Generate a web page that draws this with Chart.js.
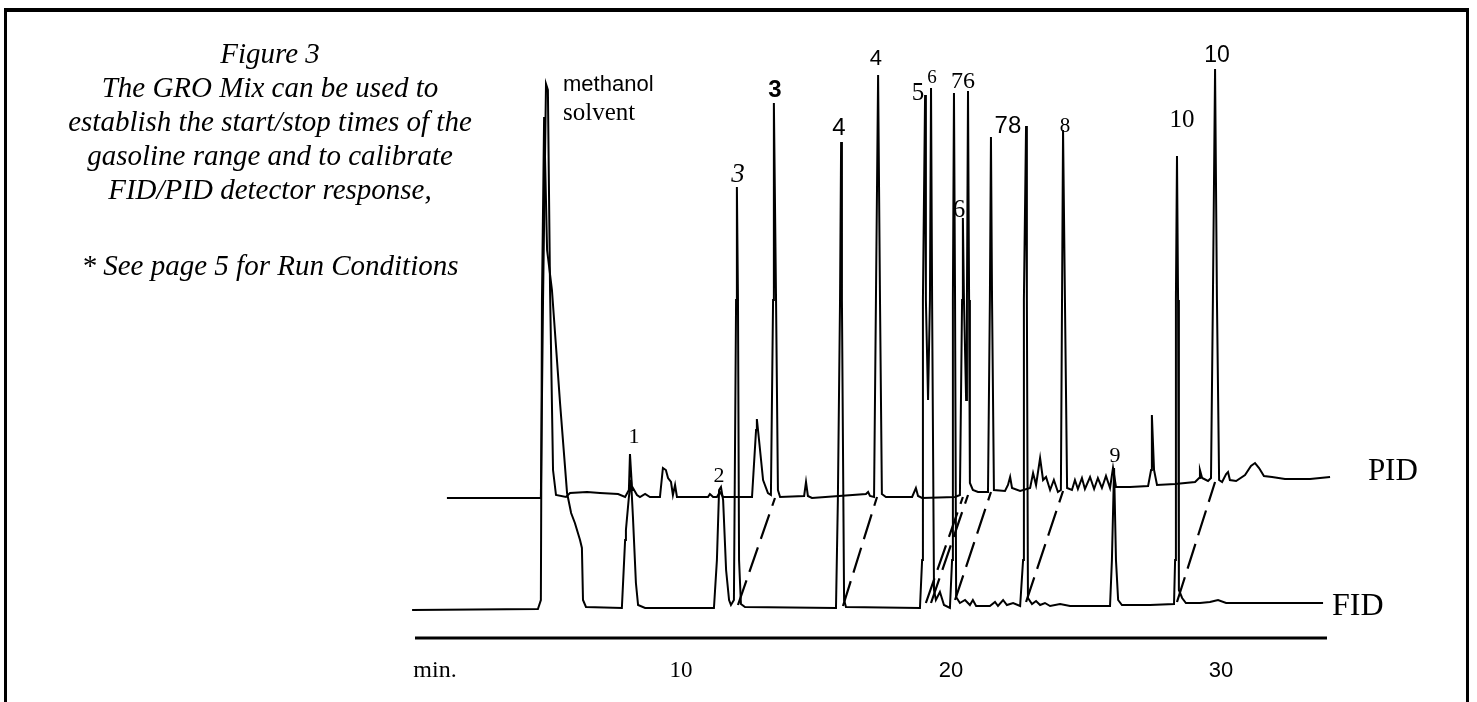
<!DOCTYPE html>
<html>
<head>
<meta charset="utf-8">
<script src="https://cdn.jsdelivr.net/npm/chart.js@4.4.1/dist/chart.umd.min.js"></script>
<style>
  html, body { margin: 0; padding: 0; background: #fff; }
  #chart { position: absolute; left: 0; top: 0; display: block; }
  #frame {
    position: absolute; left: 4px; top: 8px; width: 1459px; height: 700px;
    border-top: 4px solid #000; border-left: 3px solid #000; border-right: 3px solid #000;
    pointer-events: none;
  }
  .caption {
    position: absolute; left: 0; width: 540px; text-align: center;
    font: italic 29px "Liberation Serif", serif; line-height: 34px; color: #000;
  }
</style>
</head>
<body>
<canvas id="chart" width="1477" height="702"></canvas>
<div id="frame"></div>
<div class="caption" style="top:36px">Figure 3<br>The GRO Mix can be used to<br>establish the start/stop times of the<br>gasoline range and to calibrate<br>FID/PID detector response,</div>
<div class="caption" style="top:248px">* See page 5 for Run Conditions</div>
<script>
// retention time (min) and detector signal
const pidTime = [
  1.33, 4.70, 4.81, 4.89, 5.00, 5.07, 5.15, 5.26, 5.37, 5.74,
  5.89, 6.52, 7.00, 7.67, 7.93, 8.07, 8.11, 8.19, 8.22, 8.37,
  8.48, 8.67, 8.85, 9.22, 9.33, 9.44, 9.52, 9.63, 9.70, 9.78,
  9.85, 11.00, 11.07, 11.19, 11.33, 11.44, 11.56, 12.63, 12.78, 12.81,
  12.89, 13.04, 13.22, 13.33, 13.41, 13.44, 13.52, 13.59, 13.67, 14.56,
  14.63, 14.70, 14.85, 16.85, 16.93, 17.00, 17.15, 17.22, 17.30, 17.37,
  17.44, 17.59, 18.56, 18.70, 18.78, 18.93, 20.15, 20.33, 20.41, 20.44,
  20.48, 20.56, 20.59, 20.63, 20.67, 20.70, 20.81, 21.00, 21.37, 21.44,
  21.48, 21.52, 21.59, 22.00, 22.11, 22.19, 22.26, 22.56, 22.93, 23.04,
  23.15, 23.30, 23.41, 23.52, 23.67, 23.81, 23.96, 24.07, 24.15, 24.22,
  24.30, 24.48, 24.59, 24.70, 24.85, 24.96, 25.15, 25.30, 25.44, 25.59,
  25.74, 25.89, 26.00, 26.11, 26.63, 27.30, 27.41, 27.44, 27.52, 27.63,
  28.30, 29.04, 29.19, 29.22, 29.30, 29.52, 29.63, 29.70, 29.78, 29.85,
  29.93, 30.04, 30.19, 30.26, 30.33, 30.56, 30.89, 31.11, 31.26, 31.41,
  31.59, 31.89, 32.37, 33.30, 34.04, 34.78, 35.07, 35.22
];
const pidSignal = [
  28.0, 28.0, 28.0, 67.6, 110.8, 109.6, 69.6, 33.6, 28.6, 28.2,
  29.0, 29.2, 29.0, 28.8, 28.2, 29.6, 36.8, 29.6, 30.0, 28.6,
  28.2, 28.8, 28.2, 28.2, 34.0, 33.6, 32.0, 31.2, 28.6, 30.6,
  28.2, 28.2, 28.8, 28.2, 28.2, 29.2, 28.2, 28.2, 41.6, 43.8,
  39.6, 31.6, 29.0, 28.6, 67.6, 107.0, 67.6, 29.6, 28.2, 28.4,
  31.2, 28.4, 28.0, 28.8, 29.2, 28.4, 28.2, 67.6, 112.6, 67.6,
  28.8, 28.2, 28.2, 30.0, 28.4, 28.0, 28.2, 28.6, 67.6, 84.0,
  67.6, 47.6, 67.6, 109.4, 67.6, 31.0, 29.6, 29.2, 29.2, 67.6,
  100.2, 67.6, 29.6, 29.4, 30.6, 32.2, 30.0, 29.4, 30.0, 33.0,
  30.6, 36.0, 31.6, 32.2, 29.6, 31.6, 29.2, 29.6, 101.6, 67.6,
  30.0, 29.6, 31.6, 29.8, 32.0, 29.8, 32.2, 29.8, 32.0, 30.0,
  32.4, 30.0, 34.0, 30.2, 30.2, 30.4, 33.6, 44.6, 33.6, 30.6,
  30.8, 31.2, 32.0, 33.6, 32.0, 31.4, 32.0, 67.6, 113.8, 67.6,
  31.6, 31.2, 32.8, 33.2, 31.6, 31.4, 32.6, 34.4, 35.0, 34.0,
  32.4, 32.2, 31.8, 31.8, 32.2, 32.4, 32.8, 33.6
];
const fidTime = [
  0.04, 4.70, 4.81, 4.85, 4.93, 5.04, 5.22, 5.30, 5.52, 5.78,
  5.93, 6.07, 6.26, 6.33, 6.37, 6.48, 7.81, 7.93, 7.96, 8.07,
  8.15, 8.22, 8.33, 8.41, 8.67, 11.22, 11.33, 11.41, 11.48, 11.56,
  11.67, 11.78, 11.85, 11.96, 12.04, 12.07, 12.11, 12.15, 12.22, 12.37,
  15.74, 15.81, 15.89, 15.93, 15.96, 16.04, 16.11, 18.85, 18.93, 18.96,
  19.04, 19.07, 19.15, 19.22, 19.26, 19.30, 19.37, 19.44, 19.59, 19.74,
  19.96, 20.04, 20.07, 20.11, 20.15, 20.19, 20.33, 20.52, 20.70, 20.81,
  20.93, 21.44, 21.63, 21.74, 21.93, 22.07, 22.30, 22.56, 22.67, 22.70,
  22.78, 22.81, 22.85, 23.00, 23.15, 23.30, 23.48, 23.67, 24.04, 24.41,
  25.89, 25.96, 26.04, 26.11, 26.19, 26.33, 27.37, 28.26, 28.30, 28.33,
  28.37, 28.41, 28.44, 28.56, 28.70, 29.22, 29.59, 29.89, 30.19, 31.44,
  33.78
];
const fidSignal = [
  5.6, 5.8, 7.6, 67.6, 104.2, 77.6, 69.6, 63.6, 47.0, 29.0,
  25.0, 23.0, 19.6, 18.0, 7.6, 6.2, 6.0, 19.6, 21.6, 28.2,
  31.6, 24.2, 11.0, 6.6, 6.0, 6.0, 15.6, 29.6, 30.2, 27.6,
  13.6, 7.6, 6.6, 7.6, 67.6, 90.2, 67.6, 15.6, 6.8, 6.2,
  6.0, 27.6, 67.6, 99.2, 67.6, 7.6, 6.2, 6.0, 15.6, 67.6,
  108.6, 67.6, 47.6, 67.6, 110.0, 67.6, 9.6, 7.6, 9.2, 6.6,
  6.0, 15.6, 67.6, 109.0, 67.6, 8.2, 7.0, 7.6, 6.6, 7.6,
  6.4, 6.4, 7.2, 6.4, 7.6, 6.6, 7.0, 6.4, 15.6, 67.6,
  102.4, 67.6, 8.0, 6.8, 7.4, 6.6, 7.0, 6.4, 6.8, 6.4,
  6.4, 15.6, 34.0, 15.6, 7.6, 6.6, 6.6, 6.8, 15.6, 67.6,
  96.4, 67.6, 9.6, 8.0, 7.0, 7.0, 7.2, 7.6, 7.0, 7.0,
  7.0
];

// dashed links: same compound, FID peak -> PID peak
const linkFidTime = [12.11, 16.00, 19.07, 19.26, 20.15, 22.78, 28.37];
const linkFidSignal = [6.6, 6.4, 7.0, 7.0, 7.6, 7.2, 7.2];
const linkPidTime = [13.48, 17.26, 20.44, 20.63, 21.48, 24.15, 29.78];
const linkPidSignal = [28.0, 28.2, 28.2, 28.6, 29.2, 29.4, 31.2];

// peak numbers
const peakText = ['1', '2', '3', '3', '4', '4', '5', '6', '76', '6', '78', '8', '9', '10', '10'];
const peakTime = [8.26, 11.41, 12.11, 13.48, 15.85, 17.22, 18.78, 19.30, 20.44, 20.30, 22.11, 24.22, 26.07, 28.56, 29.85];
const peakHeight = [39.0, 31.2, 91.2, 108.2, 100.6, 114.6, 107.6, 111.0, 110.0, 84.2, 101.0, 101.2, 35.2, 102.2, 115.2];

const tickValues = [0.89, 10, 20, 30];
const tickLabels = ['min.', '10', '20', '30'];
const timeMin = 0.148, timeMax = 33.926;

const SERIF = '"Liberation Serif", serif';
const SANS = '"Liberation Sans", sans-serif';
const peakFonts = [
  '22px ' + SERIF, '22px ' + SERIF, 'italic 27px ' + SERIF, 'bold 24px ' + SANS,
  '24px ' + SANS, '22px ' + SANS, '25px ' + SERIF, '19px ' + SERIF, '24px ' + SERIF,
  '25px ' + SERIF, '24px ' + SANS, '21px ' + SERIF, '22px ' + SERIF, '25px ' + SERIF, '23px ' + SANS
];
const tickFonts = ['24px ' + SERIF, '23px ' + SERIF, '22px ' + SANS, '22px ' + SANS];

function toPoints(xs, ys) {
  const n = Math.min(xs.length, ys.length);
  const pts = [];
  for (let i = 0; i < n; i++) pts.push({x: xs[i], y: ys[i]});
  return pts;
}

const datasets = [
  {label: 'PID', data: toPoints(pidTime, pidSignal)},
  {label: 'FID', data: toPoints(fidTime, fidSignal)}
];
linkFidTime.forEach((t, i) => {
  datasets.push({
    label: 'link' + i,
    data: [{x: t, y: linkFidSignal[i]}, {x: linkPidTime[i], y: linkPidSignal[i]}],
    borderDash: [26, 9],
    borderWidth: 2.2
  });
});
datasets.forEach(d => {
  d.borderColor = '#000';
  d.borderWidth = d.borderWidth || 2;
  d.pointRadius = 0;
  d.tension = 0;
  d.fill = false;
  d.clip = false;
});

const overlay = {
  id: 'overlay',
  afterDatasetsDraw(chart) {
    const {ctx, chartArea} = chart;
    const x = chart.scales.x, y = chart.scales.y;
    ctx.save();
    ctx.fillStyle = '#000';
    ctx.strokeStyle = '#000';

    // time axis
    ctx.lineWidth = 3;
    ctx.beginPath();
    ctx.moveTo(x.getPixelForValue(timeMin), chartArea.bottom);
    ctx.lineTo(x.getPixelForValue(timeMax), chartArea.bottom);
    ctx.stroke();

    ctx.textBaseline = 'alphabetic';
    ctx.textAlign = 'center';
    tickValues.forEach((v, i) => {
      ctx.font = tickFonts[i];
      ctx.fillText(tickLabels[i], x.getPixelForValue(v), chartArea.bottom + 39);
    });

    peakText.forEach((txt, i) => {
      ctx.font = peakFonts[i];
      ctx.fillText(txt, x.getPixelForValue(peakTime[i]), y.getPixelForValue(peakHeight[i]));
    });

    ctx.textAlign = 'left';
    ctx.font = '22px ' + SANS;
    ctx.fillText('methanol', x.getPixelForValue(5.63), y.getPixelForValue(109.4));
    ctx.font = '25px ' + SERIF;
    ctx.fillText('solvent', x.getPixelForValue(5.63), y.getPixelForValue(103.6));
    ctx.font = '31px ' + SERIF;
    ctx.fillText('PID', x.getPixelForValue(35.44), y.getPixelForValue(31.6));
    ctx.font = '32px ' + SERIF;
    ctx.fillText('FID', x.getPixelForValue(34.11), y.getPixelForValue(4.6));
    ctx.restore();
  }
};

new Chart(document.getElementById('chart').getContext('2d'), {
  type: 'line',
  data: {datasets: datasets},
  options: {
    responsive: false,
    animation: false,
    devicePixelRatio: 1,
    layout: {padding: {left: 415, right: 150, top: 38, bottom: 64}},
    plugins: {legend: {display: false}, tooltip: {enabled: false}},
    scales: {
      x: {type: 'linear', min: timeMin, max: timeMax, display: false},
      y: {type: 'linear', min: 0, max: 120, display: false}
    }
  },
  plugins: [overlay]
});
</script>
</body>
</html>
